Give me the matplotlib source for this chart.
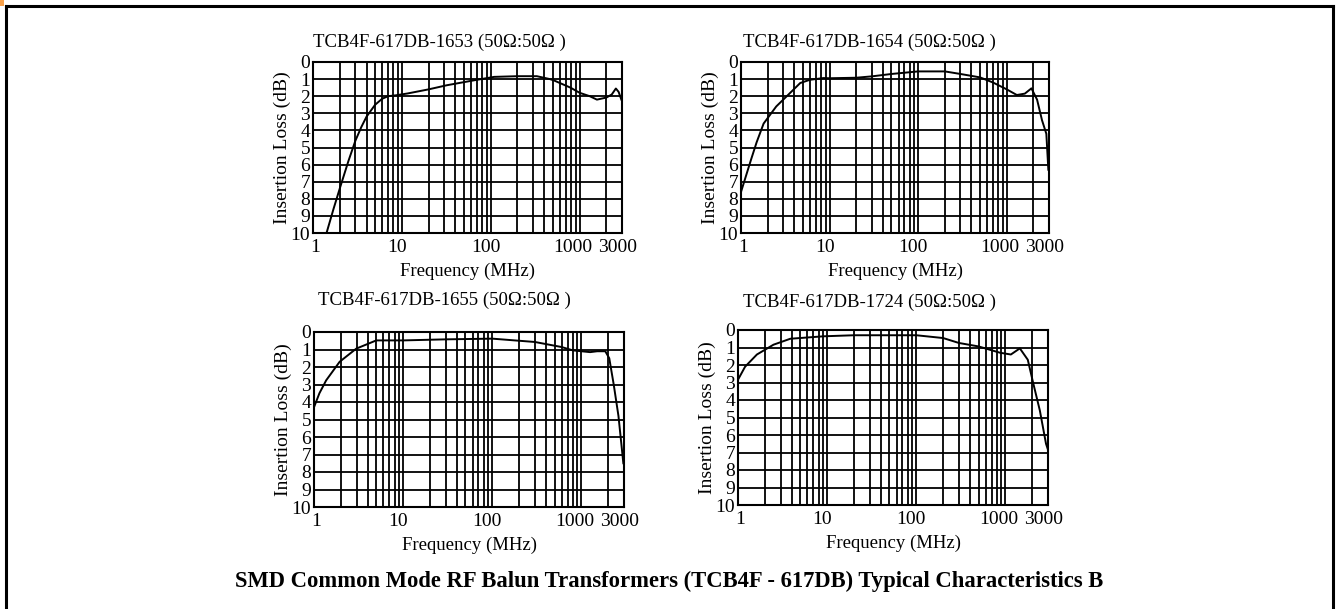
import matplotlib
matplotlib.use("Agg")
import matplotlib.pyplot as plt
from matplotlib.patches import Rectangle
from matplotlib.ticker import NullFormatter, FixedLocator
from matplotlib.transforms import ScaledTranslation

W, H = 1338, 609

# ---------------- data ----------------
titles = [
    "TCB4F-617DB-1653 (50\u03a9:50\u03a9 )",
    "TCB4F-617DB-1654 (50\u03a9:50\u03a9 )",
    "TCB4F-617DB-1655 (50\u03a9:50\u03a9 )",
    "TCB4F-617DB-1724 (50\u03a9:50\u03a9 )",
]

freq_1653 = [1.42, 1.7, 2.0, 2.5, 3.0, 3.5, 4.0, 5.0, 6.0, 7.0, 8.5, 11.6, 20, 32, 65,
             109, 200, 330, 463, 510, 790, 1000, 1300, 1566, 2000, 2300, 2560, 2750, 2950]
loss_1653 = [10.0, 8.6, 7.4, 5.8, 4.6, 3.8, 3.2, 2.5, 2.15, 2.0, 1.95, 1.84, 1.6, 1.36, 1.07,
             0.87, 0.83, 0.83, 1.0, 1.07, 1.5, 1.8, 2.0, 2.2, 2.08, 1.9, 1.55, 1.75, 2.2]

freq_1654 = [1.0, 1.3, 1.5, 1.8, 2.5, 3.6, 4.66, 6.0, 8.5, 10, 20, 30, 50, 100, 200,
             300, 500, 700, 1000, 1300, 1600, 1900, 2200, 2500, 2800, 2950]
loss_1654 = [7.6, 5.7, 4.7, 3.6, 2.6, 1.8, 1.23, 1.04, 0.94, 0.95, 0.92, 0.84, 0.7, 0.55, 0.55,
             0.7, 0.9, 1.2, 1.6, 1.93, 1.85, 1.54, 2.2, 3.4, 4.2, 6.3]

freq_1655 = [1.0, 1.15, 1.37, 1.94, 2.98, 5.0, 10, 30, 100, 300, 600, 800, 1000,
             1250, 1500, 1850, 2050, 2300, 2600, 2950]
loss_1655 = [4.3, 3.5, 2.76, 1.7, 0.95, 0.48, 0.48, 0.42, 0.38, 0.57, 0.86, 1.05, 1.1,
             1.15, 1.1, 1.1, 1.5, 3.0, 4.8, 7.5]

freq_1724 = [1.0, 1.2, 1.63, 2.5, 3.86, 9.1, 20, 50, 100, 200, 300, 500, 870,
             1150, 1450, 1780, 2040, 2430, 2850, 2980]
loss_1724 = [2.84, 2.1, 1.4, 0.84, 0.5, 0.36, 0.3, 0.3, 0.3, 0.46, 0.74, 0.94, 1.3,
             1.4, 1.05, 1.7, 3.0, 4.6, 6.5, 6.8]

freqs = [freq_1653, freq_1654, freq_1655, freq_1724]
losses = [loss_1653, loss_1654, loss_1655, loss_1724]

x_tick_values = [1, 10, 100, 1000, 3000]
x_tick_labels = ["1", "10", "100", "1000", "3000"]
y_tick_values = list(range(0, 11))

x_label = "Frequency (MHz)"
y_label = "Insertion Loss (dB)"
caption = "SMD Common Mode RF Balun Transformers (TCB4F - 617DB) Typical Characteristics B"

# ---------------- layout (pixel boxes: x0, y0, x1, y1) ----------------
boxes = [(313, 62, 622, 233), (741, 62, 1049, 233),
         (314, 332, 624, 507), (738, 330, 1048, 505)]
title_pos = [(313, 42), (743, 42), (318, 300), (743, 302)]
x_label_shift_px = [2, -5, -5, -7, -4]

serif = ["Liberation Serif", "DejaVu Serif"]
fig = plt.figure(figsize=(W / 100, H / 100), dpi=100)
fig.patch.set_facecolor("white")

# page border (left, top, right) and orange corner mark
fig.add_artist(plt.Line2D([5.5 / W, 5.5 / W], [0, 1 - 5.5 / H], transform=fig.transFigure,
                          color="black", lw=2.2))
fig.add_artist(plt.Line2D([5.5 / W, 1332.5 / W], [1 - 5.5 / H, 1 - 5.5 / H],
                          transform=fig.transFigure, color="black", lw=2.2))
fig.add_artist(plt.Line2D([1332.5 / W, 1332.5 / W], [0, 1 - 5.5 / H], transform=fig.transFigure,
                          color="black", lw=2.2))
fig.add_artist(Rectangle((0, 1 - 6 / H), 4 / W, 6 / H, transform=fig.transFigure,
                         facecolor="#f7a04a", edgecolor="none"))

for i, (x0, y0, x1, y1) in enumerate(boxes):
    ax = fig.add_axes([x0 / W, 1 - y1 / H, (x1 - x0) / W, (y1 - y0) / H])
    ax.set_xscale("log")
    ax.set_xlim(1, 3000)
    ax.set_ylim(10, 0)
    ax.plot(freqs[i], losses[i], color="black", lw=1.4, zorder=3)

    minor_pos = [k * d for d in (1, 10, 100, 1000) for k in range(1, 10) if k * d <= 3000]
    ax.xaxis.set_minor_locator(FixedLocator(minor_pos))
    ax.xaxis.set_minor_formatter(NullFormatter())
    ax.set_xticks(x_tick_values)
    ax.set_xticklabels(x_tick_labels)
    ax.set_yticks(y_tick_values)
    ax.set_yticklabels([str(v) for v in y_tick_values])
    ax.grid(True, which="both", axis="x", color="black", lw=1.3)
    ax.grid(True, which="major", axis="y", color="black", lw=1.3)
    ax.tick_params(which="both", length=0, labelsize=14, pad=2)
    ax.tick_params(axis="x", pad=4)
    for lab in ax.get_xticklabels() + ax.get_yticklabels():
        lab.set_fontfamily(serif)
    for lab, dx in zip(ax.get_xticklabels(), x_label_shift_px):
        lab.set_transform(lab.get_transform() + ScaledTranslation(dx / 100, 0, fig.dpi_scale_trans))
    for sp in ax.spines.values():
        sp.set_linewidth(1.5)
        sp.set_color("black")
    ax.set_xlabel(x_label, fontsize=13.5, family=serif, labelpad=5)
    ax.set_ylabel(y_label, fontsize=14, family=serif, labelpad=0)

    tx, ty = title_pos[i]
    fig.text(tx / W, 1 - ty / H, titles[i], fontsize=13.5, family=serif,
             ha="left", va="center")

fig.text(669 / W, 1 - 581 / H, caption, fontsize=16.3, family=serif, weight="bold",
         ha="center", va="center")

fig.savefig("out.png", dpi=100, facecolor="white")
